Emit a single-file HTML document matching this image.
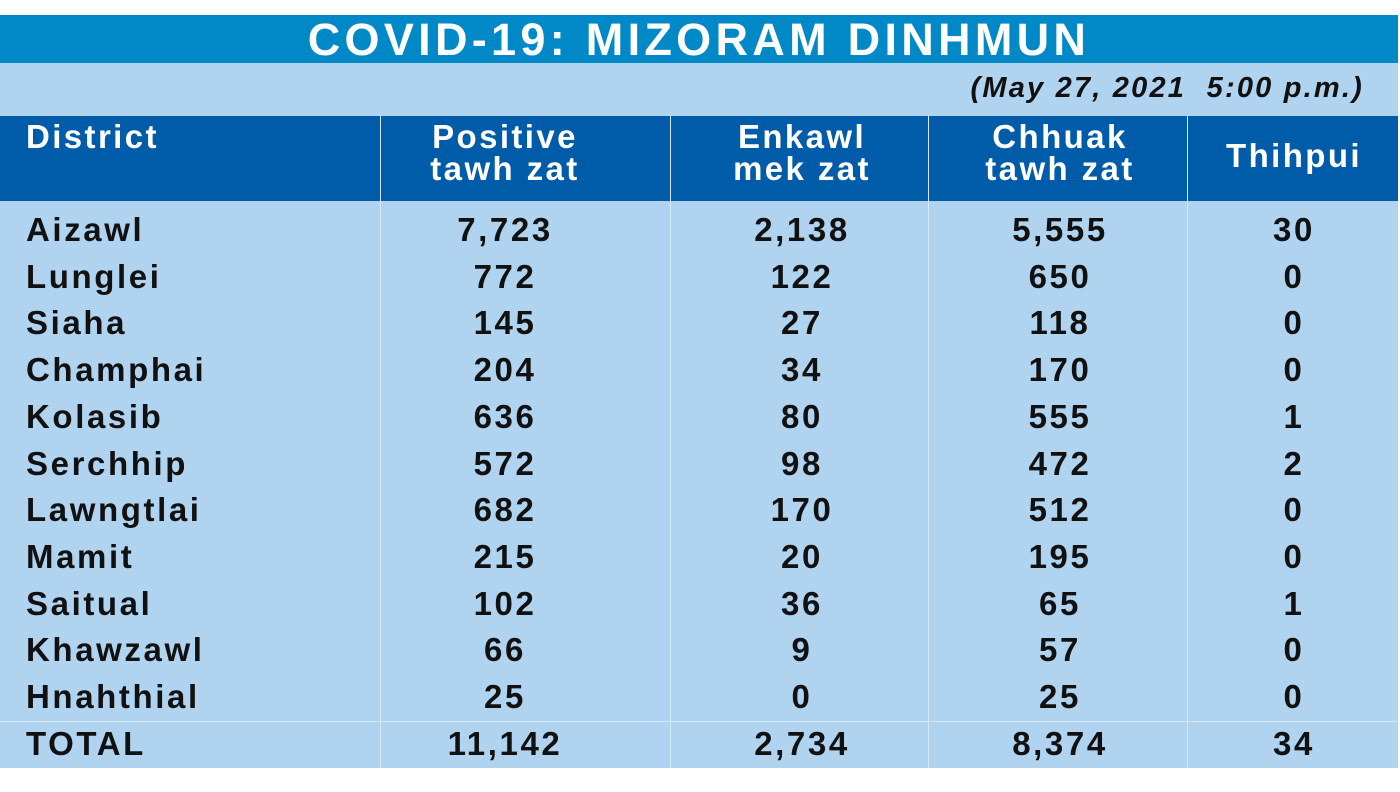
<!DOCTYPE html>
<html><head><meta charset="utf-8"><style>
body{margin:0;width:1400px;height:792px;background:#fff;position:relative;overflow:hidden;font-family:"Liberation Sans",sans-serif;font-weight:bold}
.abs{position:absolute}
#title{left:0;top:15px;width:1398px;height:48px;background:#0089c6;color:#fff;font-size:45px;letter-spacing:4.3px;text-align:center;line-height:50px}
#bg{left:0;top:63px;width:1398px;height:705px;background:#b0d4f0}
#date{right:36px;top:72px;font-size:29px;letter-spacing:2.2px;font-style:italic;font-weight:bold;color:#111}
#head{left:0;top:116px;width:1398px;height:85px;background:#005ca8}
.h{color:#fff;font-size:33px;letter-spacing:2.4px;line-height:32px;text-align:center}
.vl{width:1px;background:#d6e8f6}
.c{font-size:33px;letter-spacing:2.6px;color:#111;text-align:center;line-height:36px}
.l{font-size:33px;letter-spacing:2.6px;color:#111;line-height:36px}
</style></head><body>
<div class="abs" id="title">COVID-19: MIZORAM DINHMUN</div>
<div class="abs" id="bg"></div>
<div class="abs" id="date">(May 27, 2021&nbsp; 5:00 p.m.)</div>
<div class="abs" id="head"></div>
<div class="abs h" style="left:26px;top:121px;text-align:left">District</div>
<div class="abs h" style="left:380px;width:250px;top:121px">Positive<br>tawh zat</div>
<div class="abs h" style="left:670px;width:264px;top:121px">Enkawl<br>mek zat</div>
<div class="abs h" style="left:928px;width:264px;top:121px">Chhuak<br>tawh zat</div>
<div class="abs h" style="left:1187px;width:214px;top:140px">Thihpui</div>
<div class="abs vl" style="left:380px;top:116px;height:652px"></div>
<div class="abs vl" style="left:670px;top:116px;height:652px"></div>
<div class="abs vl" style="left:928px;top:116px;height:652px"></div>
<div class="abs vl" style="left:1187px;top:116px;height:652px"></div>
<div class="abs" style="left:0;top:721px;width:1398px;height:1px;background:#d6e8f6"></div>
<div id="rows"></div>
<script>
const districts=["Aizawl","Lunglei","Siaha","Champhai","Kolasib","Serchhip","Lawngtlai","Mamit","Saitual","Khawzawl","Hnahthial","TOTAL"];
const positive=["7,723","772","145","204","636","572","682","215","102","66","25","11,142"];
const active=["2,138","122","27","34","80","98","170","20","36","9","0","2,734"];
const recovered=["5,555","650","118","170","555","472","512","195","65","57","25","8,374"];
const deaths=["30","0","0","0","1","2","0","0","1","0","0","34"];
const cols=[[380,250],[670,264],[928,264],[1187,214]];
const rows=document.getElementById('rows');
districts.forEach((d,i)=>{
  const cy=i<11?230+i*46.7:744;
  const top=cy-18;
  const n=document.createElement('div');
  n.className='abs l';n.style.left='26px';n.style.top=top+'px';n.textContent=d;
  
  
  rows.appendChild(n);
  [positive,active,recovered,deaths].forEach((arr,j)=>{
    const e=document.createElement('div');
    e.className='abs c';e.style.left=cols[j][0]+'px';e.style.width=cols[j][1]+'px';e.style.top=top+'px';e.textContent=arr[i];
    
    
    rows.appendChild(e);
  });
});
</script>
</body></html>
